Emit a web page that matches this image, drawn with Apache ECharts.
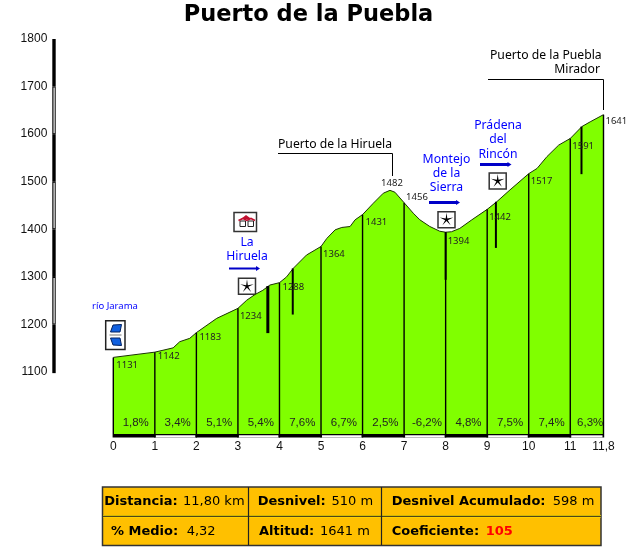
<!DOCTYPE html>
<html><head><meta charset="utf-8">
<style>html,body{margin:0;padding:0;background:#fff}#c{width:640px;height:550px}</style>
<script src="https://cdn.jsdelivr.net/npm/echarts@6/dist/echarts.min.js"></script>
</head><body><div id="c"></div>
<script>
// ---- data ----
const titleText = 'Puerto de la Puebla';
const profileKm = [0,1,1.44,1.6,1.84,2,2.49,3,3.21,3.41,3.6,3.77,4,4.17,4.33,4.65,5,5.14,5.34,5.5,5.7,5.82,6,6.26,6.5,6.66,6.78,7,7.22,7.38,7.62,7.86,8,8.14,8.34,8.63,9,9.23,9.55,10,10.2,10.44,10.72,11,11.28,11.48,11.8];
const profileEle = [1131,1142,1151,1164,1171,1183,1213,1234,1251,1263,1272,1283,1288,1300,1318,1346,1364,1381,1399,1404,1406,1420,1431,1455,1476,1482,1478,1456,1434,1420,1406,1396,1394,1395,1402,1420,1442,1458,1483,1517,1528,1553,1577,1591,1616,1626,1641];
const tickKm = [0,1,2,3,4,5,6,7,8,9,10,11,11.8];
const tickEle = [1131,1142,1183,1234,1288,1364,1431,1456,1394,1442,1517,1591,1641];
const peakKm = 6.66, peakEle = 1482;
const altTicks = [1100,1200,1300,1400,1500,1600,1700,1800];
const gradeLabels = ['1,8%','3,4%','5,1%','5,4%','7,6%','6,7%','2,5%','-6,2%','4,8%','7,5%','7,4%','6,3%'];
const dropKm = [3.72,4.32,8,9.21,11.27];
const dropTop = [1281,1318,1394,1458,1616];
const dropBottom = [1182,1221,1294,1361,1516];
const summaryRow1 = ['Distancia:','11,80 km','Desnivel:','510 m','Desnivel Acumulado:','598 m'];
const summaryRow2 = ['% Medio:','4,32','Altitud:','1641 m','Coeficiente:','105'];

// ---- layout and styles ----
const SANS='"Liberation Sans",Arial,sans-serif', DJ='"DejaVu Sans",Verdana,sans-serif', TAH='"Noto Sans","DejaVu Sans",sans-serif';
const GREEN='#80FF00', BLUE='#0000FF', AXIS_MIN=970;
const labelOff=[[3,7.5],[3,4],[3,5],[2,8],[3,5],[2,8],[3,7.5],[2,-5],[2,9],[2,8],[2,8],[2,8],[2,7]];
const gradeX=[0.54,1.55,2.55,3.55,4.55,5.55,6.55,7.55,8.55,9.55,10.55,11.48];

function textG(text,x,y,font,fill,align){return {type:'text',silent:true,style:{text,x,y,font,fill:fill||'#000',textAlign:align||'left',textVerticalAlign:'middle'}};}
function lineG(pts,color,w){return {type:'polyline',silent:true,shape:{points:pts},style:{stroke:color||'#000',lineWidth:w||1,fill:null}};}
function rectG(x,y,w,h,fill,stroke,lw){return {type:'rect',silent:true,shape:{x,y,width:w,height:h},style:{fill:fill||null,stroke:stroke||null,lineWidth:lw||0}};}
function starG(cx,cy){const p=[];for(let i=0;i<10;i++){const r=i%2?1.4:7,a=-Math.PI/2+i*Math.PI/5;p.push([cx+r*Math.cos(a),cy+r*Math.sin(a)]);}
 return {type:'polygon',silent:true,shape:{points:p},style:{fill:'#000'}};}
function starBox(cx,cy){return [rectG(cx-8.5,cy-8,17,16,'#fff','#333',1.5),starG(cx,cy)];}
function arrow(x0,x1,y,w){return [lineG([[x0,y],[x1-3,y]],'#0000C8',w),{type:'polygon',silent:true,shape:{points:[[x1-4,y-2.5],[x1,y],[x1-4,y+2.5]]},style:{fill:'#0000C8'}}];}
const gfx=[
 textG('Puerto de la Hiruela',278,144.5,`12.2px ${TAH}`),
 lineG([[278,153.5],[392.5,153.5],[392.5,176]]),
 textG('Puerto de la Puebla',490,56,`12.2px ${TAH}`),
 textG('Mirador',600,70,`12.2px ${TAH}`,'#000','right'),
 lineG([[488,79.5],[603.5,79.5],[603.5,110]]),
 textG('río Jarama',115,306.5,`9.5px ${TAH}`,BLUE,'center'),
 textG('La',247,243,`12.2px ${TAH}`,BLUE,'center'),
 textG('Hiruela',247,257,`12.2px ${TAH}`,BLUE,'center'),
 textG('Montejo',446.5,159.5,`12.2px ${TAH}`,BLUE,'center'),
 textG('de la',446.5,173.5,`12.2px ${TAH}`,BLUE,'center'),
 textG('Sierra',446.5,187.5,`12.2px ${TAH}`,BLUE,'center'),
 textG('Prádena',498,125.5,`12.2px ${TAH}`,BLUE,'center'),
 textG('del',498,140,`12.2px ${TAH}`,BLUE,'center'),
 textG('Rincón',498,154.5,`12.2px ${TAH}`,BLUE,'center'),
 ...arrow(229,260,268.5,2),...arrow(429,460,202.5,3),...arrow(480,511.5,164.5,3),
 ...starBox(247,286.3),...starBox(446.5,219.7),...starBox(497.7,181),
 rectG(234,212.5,22.5,19,'#fff','#333',1.5),
 {type:'polygon',silent:true,shape:{points:[[241,219],[246,215],[251.5,219]]},style:{fill:'#C01030'}},
 rectG(240,221,5.5,5.5,'#fff','#222',1),rectG(248,221,5.5,5.5,'#fff','#222',1),
 lineG([[238.5,220.5],[243,218.5],[247,220.5]],'#C01030',1.6),lineG([[246.5,220.5],[251,218.5],[255,220.5]],'#C01030',1.6),
 rectG(105.7,320.7,19.3,28.8,'#fff','#222',1.5),
 {type:'polygon',silent:true,shape:{points:[[113,325],[121.5,324.5],[120,332],[110.5,332]]},style:{fill:'#1060E0',stroke:'#002060',lineWidth:1}},
 {type:'polygon',silent:true,shape:{points:[[110.5,338],[120,338],[121.5,345.5],[113,345]]},style:{fill:'#1060E0',stroke:'#002060',lineWidth:1}},
 lineG([[109.5,335],[121.5,335]],'#777',1),
 rectG(102.5,487,498.5,58.5,'#FFC000','#333',1.5),
 lineG([[103,515.5],[601,515.5]],'#FFE000',1),lineG([[103,517],[601,517]],'#FFE000',1),
 lineG([[103,516.3],[601,516.3]],'#222',1),
 lineG([[248.5,487],[248.5,545]],'#222',1.2),lineG([[381.5,487],[381.5,545]],'#222',1.2),
];
const B=`bold 13px ${DJ}`, R=`13px ${DJ}`;
[[summaryRow1,502,[104.3,183,257.7,331.5,391.7,552.7]],[summaryRow2,531.7,[111,186.7,259,320,391.7,485.7]]].forEach(([row,y,xs])=>{
 row.forEach((t,i)=>{const red=t==='105';gfx.push(textG(t,xs[i],y,(i%2===0||red)?B:R,red?'#FF0000':'#000'));});
});

const chart=echarts.init(document.getElementById('c'));
chart.setOption({
 animation:false,
 title:{text:titleText,left:303.5,top:-1,textAlign:'center',textStyle:{fontFamily:DJ,fontWeight:'bold',fontSize:22.5,color:'#000'}},
 grid:{left:113.3,top:39,width:490.2,height:395},
 xAxis:{type:'value',min:0,max:11.8,splitLine:{show:false},axisLine:{show:false},axisTick:{show:false},
  axisLabel:{customValues:tickKm,margin:7,fontFamily:SANS,fontSize:12,color:'#111',formatter:v=>String(v).replace('.',',')}},
 yAxis:{type:'value',min:AXIS_MIN,max:1800,offset:60,splitLine:{show:false},axisLine:{show:false},axisTick:{show:false},
  axisLabel:{customValues:altTicks,margin:6,fontFamily:SANS,fontSize:12,color:'#111',formatter:v=>String(v)}},
 series:[
  {type:'line',data:profileKm.map((k,i)=>[k,profileEle[i]]),symbol:'none',smooth:false,lineStyle:{color:'#1a3300',width:1},areaStyle:{color:GREEN,opacity:1},z:1},
  {type:'custom',z:3,data:tickKm.map((k,i)=>[k,tickEle[i]]),renderItem:(p,api)=>{
    const a=api.coord([api.value(0),api.value(1)]),b=api.coord([api.value(0),AXIS_MIN]);
    return {type:'line',shape:{x1:a[0],y1:a[1],x2:b[0],y2:b[1]},style:{stroke:'#000',lineWidth:1.4}};}},
  {type:'custom',z:4,data:dropKm.map((k,i)=>[k,dropTop[i],dropBottom[i]]),renderItem:(p,api)=>{
    const a=api.coord([api.value(0),api.value(1)]),b=api.coord([api.value(0),api.value(2)]);
    return {type:'line',shape:{x1:a[0],y1:a[1],x2:b[0],y2:b[1]},style:{stroke:'#000',lineWidth:p.dataIndexInside===0?3:2}};}},
  {type:'custom',z:5,data:tickKm.map((k,i)=>[k,tickEle[i]]),renderItem:(p,api)=>{
    const a=api.coord([api.value(0),api.value(1)]),o=labelOff[p.dataIndexInside];
    return {type:'text',style:{text:String(api.value(1)),x:a[0]+o[0],y:a[1]+o[1],font:`9.5px ${TAH}`,fill:'#222',textAlign:'left',textVerticalAlign:'middle'}};}},
  {type:'custom',z:5,data:[[peakKm,peakEle]],renderItem:(p,api)=>{
    const a=api.coord([api.value(0),api.value(1)]);
    return {type:'text',style:{text:String(api.value(1)),x:a[0]+2,y:a[1]-7.5,font:`9.5px ${TAH}`,fill:'#222',textAlign:'center',textVerticalAlign:'middle'}};}},
  {type:'custom',z:5,data:gradeX.map(k=>[k,AXIS_MIN]),renderItem:(p,api)=>{
    const a=api.coord([api.value(0),api.value(1)]);
    return {type:'text',style:{text:gradeLabels[p.dataIndexInside],x:a[0],y:a[1]-11.5,font:`11.5px ${SANS}`,fill:'#222',textAlign:'center',textVerticalAlign:'middle'}};}},
  {type:'custom',z:6,data:tickKm.slice(0,-1).map((k,i)=>[k,tickKm[i+1]]),renderItem:(p,api)=>{
    const a=api.coord([api.value(0),AXIS_MIN]),b=api.coord([api.value(1),AXIS_MIN]);
    const kids=[{type:'rect',shape:{x:a[0]-0.7,y:a[1],width:b[0]-a[0]+1.4,height:3.5},style:{fill:'#000'}}];
    if(p.dataIndexInside%2===1)kids.push({type:'rect',shape:{x:a[0]+1,y:a[1]+1.3,width:b[0]-a[0]-2,height:2.2},style:{fill:'#fff'}});
    return {type:'group',children:kids};}},
  {type:'custom',z:6,data:altTicks.slice(0,-1).map((v,i)=>[v,altTicks[i+1]]),renderItem:(p,api)=>{
    const a=api.coord([0,api.value(0)]),b=api.coord([0,api.value(1)]);
    const x=a[0]-61;
    const kids=[{type:'rect',shape:{x:x,y:b[1],width:3.4,height:a[1]-b[1]+(p.dataIndexInside===0?1:0)},style:{fill:'#000'}}];
    if(p.dataIndexInside%2===1)kids.push({type:'rect',shape:{x:x+1.2,y:b[1]+1,width:1.2,height:a[1]-b[1]-2},style:{fill:'#fff'}});
    return {type:'group',children:kids};}}
 ],
 graphic:{elements:gfx}
});
</script></body></html>
